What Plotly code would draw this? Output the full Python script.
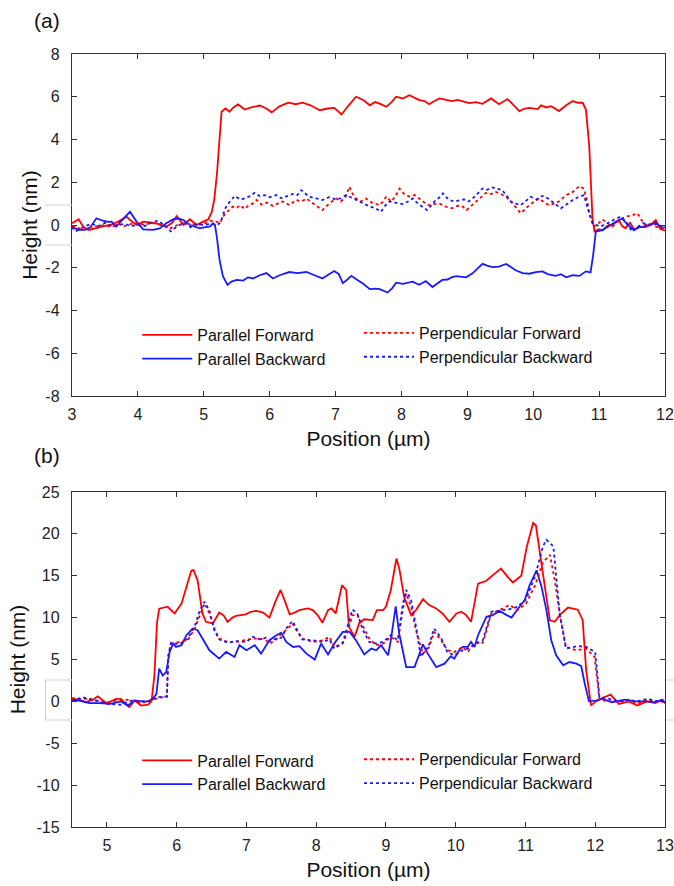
import plotly.graph_objects as go

# (a) step height profiles, (x in um, height in nm)
par_fwd_a = [(3.0, 0.08), (3.1, 0.27), (3.17, -0.08), (3.25, -0.23), (3.37, -0.15), (3.48, -0.05), (3.58, 0.0),
             (3.7, 0.16), (3.83, 0.39), (3.88, 0.23), (3.98, 0.0), (4.08, 0.16), (4.18, 0.12), (4.28, 0.08),
             (4.43, -0.08), (4.52, 0.1), (4.59, 0.42), (4.69, 0.0), (4.79, 0.27), (4.89, 0.0), (4.99, 0.16),
             (5.07, 0.27), (5.12, 0.6), (5.16, 1.2), (5.2, 2.4), (5.24, 4.0), (5.27, 5.3), (5.33, 5.45),
             (5.39, 5.3), (5.45, 5.5), (5.52, 5.64), (5.62, 5.4), (5.72, 5.5), (5.85, 5.59), (5.95, 5.45),
             (6.03, 5.27), (6.15, 5.55), (6.28, 5.72), (6.4, 5.65), (6.5, 5.72), (6.62, 5.6), (6.76, 5.37),
             (6.88, 5.45), (6.98, 5.48), (7.09, 5.17), (7.2, 5.6), (7.31, 6.0), (7.42, 5.85), (7.52, 5.6),
             (7.6, 5.75), (7.67, 5.68), (7.77, 5.53), (7.85, 5.75), (7.92, 6.0), (8.02, 5.92), (8.12, 6.07),
             (8.2, 5.95), (8.27, 5.84), (8.35, 5.8), (8.42, 5.65), (8.5, 5.8), (8.58, 5.92), (8.68, 5.85),
             (8.77, 5.8), (8.85, 5.85), (8.92, 5.8), (9.03, 5.7), (9.13, 5.75), (9.23, 5.67), (9.36, 5.92),
             (9.48, 5.65), (9.61, 5.89), (9.7, 5.6), (9.79, 5.33), (9.87, 5.45), (9.94, 5.48), (10.07, 5.42),
             (10.12, 5.6), (10.2, 5.5), (10.27, 5.56), (10.33, 5.45), (10.39, 5.33), (10.5, 5.6), (10.6, 5.8),
             (10.68, 5.72), (10.75, 5.72), (10.8, 5.4), (10.85, 3.7), (10.9, 0.3), (10.93, -0.3), (11.0, -0.2),
             (11.05, -0.25), (11.12, -0.05), (11.2, 0.0), (11.3, 0.23), (11.35, -0.05), (11.4, -0.15),
             (11.47, 0.1), (11.53, -0.2), (11.62, -0.1), (11.7, -0.1), (11.78, 0.0), (11.86, 0.23),
             (11.93, -0.2), (12.0, -0.25)]

par_bwd_a = [(3.0, -0.08), (3.1, -0.23), (3.2, -0.23), (3.28, -0.1), (3.37, 0.31), (3.47, 0.2), (3.55, 0.15),
             (3.6, 0.16), (3.67, -0.08), (3.78, 0.31), (3.88, 0.62), (3.98, 0.16), (4.08, -0.2), (4.23, -0.23),
             (4.33, -0.16), (4.43, 0.08), (4.54, 0.27), (4.62, 0.3), (4.69, 0.23), (4.79, 0.0), (4.87, -0.1),
             (4.94, -0.16), (5.02, -0.1), (5.09, -0.08), (5.14, 0.08), (5.17, 0.0), (5.2, -0.6), (5.24, -1.64),
             (5.29, -2.4), (5.36, -2.8), (5.42, -2.65), (5.5, -2.57), (5.6, -2.6), (5.67, -2.45), (5.75, -2.5),
             (5.85, -2.35), (5.95, -2.25), (6.05, -2.5), (6.15, -2.35), (6.3, -2.2), (6.42, -2.25), (6.56, -2.2),
             (6.68, -2.35), (6.8, -2.5), (6.9, -2.3), (6.98, -2.15), (7.05, -2.3), (7.11, -2.72), (7.18, -2.55),
             (7.24, -2.38), (7.32, -2.55), (7.42, -2.75), (7.52, -3.0), (7.6, -2.98), (7.67, -3.0), (7.74, -3.1),
             (7.79, -3.16), (7.86, -2.95), (7.92, -2.7), (8.02, -2.75), (8.1, -2.7), (8.17, -2.65), (8.27, -2.8),
             (8.37, -2.62), (8.47, -2.9), (8.55, -2.72), (8.62, -2.57), (8.7, -2.55), (8.76, -2.45), (8.83, -2.39),
             (8.9, -2.42), (8.98, -2.45), (9.08, -2.26), (9.15, -2.05), (9.23, -1.82), (9.3, -1.9), (9.38, -1.97),
             (9.48, -1.95), (9.59, -1.82), (9.66, -1.97), (9.74, -2.13), (9.84, -2.25), (9.94, -2.28),
             (10.04, -2.2), (10.14, -2.17), (10.22, -2.3), (10.34, -2.38), (10.42, -2.3), (10.5, -2.45),
             (10.6, -2.35), (10.7, -2.38), (10.8, -2.17), (10.87, -2.22), (10.91, -1.4), (10.95, -0.31),
             (11.05, -0.24), (11.12, -0.1), (11.2, 0.04), (11.28, 0.2), (11.35, 0.31), (11.42, 0.05),
             (11.53, -0.24), (11.6, -0.1), (11.66, -0.09), (11.76, 0.0), (11.86, 0.1), (11.96, -0.15), (12.0, -0.1)]

perp_fwd_a = [(3.0, -0.05), (3.1, -0.15), (3.2, -0.2), (3.3, -0.1), (3.4, -0.05), (3.5, 0.0), (3.6, -0.1),
              (3.7, 0.05), (3.8, -0.05), (3.9, 0.05), (4.0, 0.1), (4.1, 0.0), (4.2, 0.1), (4.3, 0.05),
              (4.4, -0.05), (4.5, -0.15), (4.6, 0.0), (4.7, 0.1), (4.8, 0.05), (4.9, 0.0), (5.0, 0.05),
              (5.1, 0.2), (5.2, 0.15), (5.25, 0.1), (5.29, 0.39), (5.35, 0.6), (5.44, 0.86), (5.5, 0.8),
              (5.55, 0.93), (5.62, 0.75), (5.67, 0.89), (5.74, 1.0), (5.8, 1.17), (5.88, 0.95), (5.96, 1.05),
              (6.05, 0.89), (6.12, 1.0), (6.2, 1.1), (6.3, 0.93), (6.4, 1.17), (6.48, 1.1), (6.56, 1.24),
              (6.64, 1.05), (6.71, 0.89), (6.8, 0.7), (6.91, 1.02), (7.01, 1.24), (7.08, 1.1), (7.15, 1.3),
              (7.21, 1.79), (7.26, 1.45), (7.31, 1.24), (7.38, 1.1), (7.46, 1.24), (7.55, 1.05), (7.67, 0.93),
              (7.72, 1.1), (7.77, 1.33), (7.84, 1.1), (7.9, 1.3), (7.97, 1.7), (8.04, 1.45), (8.12, 1.33),
              (8.2, 1.4), (8.27, 1.24), (8.33, 1.1), (8.4, 0.93), (8.48, 0.98), (8.58, 1.0), (8.68, 0.85),
              (8.77, 0.78), (8.85, 0.9), (8.93, 0.86), (8.99, 0.7), (9.08, 0.95), (9.18, 1.24), (9.28, 1.5),
              (9.36, 1.45), (9.43, 1.55), (9.51, 1.45), (9.59, 1.32), (9.69, 1.0), (9.75, 0.75), (9.81, 0.55),
              (9.88, 0.75), (9.94, 0.93), (10.02, 1.1), (10.09, 1.24), (10.17, 1.05), (10.24, 0.93),
              (10.32, 1.0), (10.39, 1.1), (10.5, 1.4), (10.6, 1.55), (10.7, 1.82), (10.77, 1.7), (10.82, 1.1),
              (10.85, 0.55), (10.92, -0.08), (11.0, 0.1), (11.05, 0.26), (11.12, 0.1), (11.2, -0.08),
              (11.3, 0.2), (11.4, 0.39), (11.5, 0.45), (11.58, 0.55), (11.64, 0.25), (11.7, 0.0), (11.78, 0.05),
              (11.86, -0.08), (11.93, -0.15), (12.0, -0.1)]

perp_bwd_a = [(3.0, -0.1), (3.05, -0.3), (3.12, -0.2), (3.2, -0.05), (3.3, 0.05), (3.4, -0.05), (3.5, 0.1),
              (3.6, -0.05), (3.7, 0.0), (3.8, 0.05), (3.9, -0.05), (4.0, 0.0), (4.1, -0.05), (4.2, 0.1),
              (4.3, 0.2), (4.4, 0.0), (4.5, -0.3), (4.6, -0.05), (4.7, 0.1), (4.8, -0.1), (4.9, 0.05),
              (5.0, 0.0), (5.1, 0.05), (5.2, 0.0), (5.25, 0.1), (5.29, 0.47), (5.33, 0.8), (5.37, 1.0),
              (5.42, 1.2), (5.47, 1.36), (5.55, 1.2), (5.62, 1.24), (5.7, 1.35), (5.77, 1.5), (5.85, 1.35),
              (5.92, 1.4), (6.0, 1.3), (6.1, 1.4), (6.18, 1.25), (6.25, 1.32), (6.35, 1.45), (6.42, 1.4),
              (6.48, 1.63), (6.55, 1.45), (6.6, 1.32), (6.7, 1.25), (6.8, 1.17), (6.9, 1.3), (7.01, 1.19),
              (7.08, 1.25), (7.16, 1.4), (7.23, 1.3), (7.31, 1.17), (7.4, 1.05), (7.46, 0.95), (7.52, 0.86),
              (7.6, 0.8), (7.69, 0.62), (7.75, 0.9), (7.82, 1.1), (7.9, 1.05), (7.96, 1.0), (8.02, 0.98),
              (8.1, 1.1), (8.17, 1.24), (8.25, 1.0), (8.32, 0.86), (8.39, 0.7), (8.45, 0.9), (8.52, 1.17),
              (8.58, 1.3), (8.63, 1.48), (8.68, 1.3), (8.73, 1.17), (8.8, 1.1), (8.88, 1.17), (8.95, 1.2),
              (9.02, 1.1), (9.08, 1.24), (9.15, 1.45), (9.23, 1.71), (9.3, 1.65), (9.38, 1.76), (9.45, 1.7),
              (9.53, 1.63), (9.6, 1.35), (9.66, 1.1), (9.74, 1.0), (9.81, 0.93), (9.88, 1.1), (9.96, 1.32),
              (10.05, 1.2), (10.14, 1.36), (10.22, 1.25), (10.29, 1.1), (10.36, 0.95), (10.42, 0.78),
              (10.5, 0.95), (10.6, 1.17), (10.68, 1.3), (10.77, 1.4), (10.82, 0.86), (10.87, 0.4), (10.9, 0.08),
              (10.96, 0.0), (11.02, -0.08), (11.1, 0.05), (11.18, 0.16), (11.25, 0.3), (11.33, 0.39),
              (11.42, 0.1), (11.5, -0.31), (11.58, -0.1), (11.66, 0.08), (11.73, 0.05), (11.8, 0.0),
              (11.88, 0.05), (11.93, -0.05), (12.0, -0.1)]

# (b) profiles
par_fwd_b = [(4.5, 0.3), (4.6, 0.2), (4.7, -0.1), (4.8, 0.2), (4.87, 0.6), (4.93, 0.2), (4.99, -0.2), (5.06, 0.0),
             (5.13, 0.3), (5.2, 0.3), (5.26, -0.2), (5.32, -0.7), (5.4, 0.1), (5.45, -0.3), (5.49, -0.5),
             (5.59, -0.4), (5.64, 0.0), (5.68, 3.0), (5.72, 9.5), (5.75, 11.07), (5.87, 11.3), (5.97, 10.5),
             (6.07, 11.67), (6.14, 13.65), (6.21, 15.6), (6.24, 15.7), (6.3, 14.45), (6.37, 10.5), (6.42, 9.5),
             (6.52, 9.3), (6.61, 10.6), (6.67, 10.3), (6.73, 9.5), (6.8, 10.0), (6.85, 10.2), (6.92, 10.3),
             (6.99, 10.4), (7.06, 10.7), (7.14, 10.8), (7.24, 10.6), (7.33, 10.0), (7.42, 12.0), (7.49, 13.3),
             (7.55, 12.0), (7.62, 10.4), (7.69, 10.6), (7.76, 10.9), (7.88, 11.1), (7.95, 10.9), (8.02, 10.3),
             (8.09, 9.4), (8.17, 10.9), (8.22, 11.1), (8.28, 10.5), (8.33, 12.5), (8.37, 13.86), (8.43, 13.3),
             (8.47, 8.9), (8.55, 7.7), (8.62, 9.4), (8.69, 9.8), (8.81, 9.7), (8.87, 10.9), (8.96, 10.9),
             (9.0, 11.3), (9.07, 13.3), (9.15, 17.05), (9.19, 15.9), (9.26, 12.5), (9.36, 10.3), (9.43, 10.9),
             (9.53, 12.2), (9.62, 11.5), (9.72, 11.1), (9.81, 10.5), (9.91, 9.5), (10.01, 10.5), (10.08, 10.7),
             (10.15, 10.3), (10.22, 9.5), (10.32, 14.06), (10.44, 14.4), (10.55, 15.2), (10.65, 15.85),
             (10.75, 14.8), (10.82, 14.2), (10.94, 15.0), (11.02, 18.5), (11.11, 21.3), (11.15, 21.0),
             (11.25, 15.25), (11.35, 9.68), (11.42, 9.5), (11.49, 10.3), (11.61, 11.2), (11.75, 10.95),
             (11.82, 9.7), (11.87, 3.7), (11.94, -0.48), (12.01, 0.0), (12.1, 0.4), (12.22, 0.8), (12.34, -0.3),
             (12.48, 0.0), (12.6, -0.5), (12.74, 0.0), (12.86, -0.2), (12.96, 0.2), (13.0, -0.2)]

par_bwd_b = [(4.5, 0.2), (4.6, 0.1), (4.75, -0.2), (4.9, -0.2), (5.05, -0.3), (5.2, 0.0), (5.3, -0.5), (5.4, 0.1),
             (5.5, 0.0), (5.6, 0.0), (5.66, 0.3), (5.71, 0.9), (5.75, 3.9), (5.8, 3.1), (5.85, 3.5), (5.9, 5.9),
             (5.95, 6.9), (5.99, 6.5), (6.07, 6.7), (6.14, 7.9), (6.23, 8.7), (6.3, 8.5), (6.37, 7.5),
             (6.47, 6.1), (6.61, 5.1), (6.71, 5.9), (6.83, 5.3), (6.9, 6.7), (7.0, 6.1), (7.12, 6.7),
             (7.21, 5.7), (7.33, 7.3), (7.43, 7.9), (7.5, 8.2), (7.57, 7.1), (7.67, 6.5), (7.76, 6.6),
             (7.86, 5.7), (7.98, 5.0), (8.07, 6.9), (8.17, 5.6), (8.26, 6.9), (8.38, 8.3), (8.48, 8.3),
             (8.57, 7.3), (8.69, 5.6), (8.79, 6.3), (8.86, 6.1), (8.93, 6.7), (9.03, 5.5), (9.07, 7.3),
             (9.14, 11.35), (9.19, 8.1), (9.26, 5.5), (9.29, 4.1), (9.41, 4.1), (9.53, 6.8), (9.6, 5.7),
             (9.72, 4.1), (9.84, 4.5), (9.93, 5.4), (9.98, 5.1), (10.05, 6.1), (10.1, 6.5), (10.17, 6.5),
             (10.22, 7.1), (10.27, 6.5), (10.32, 7.9), (10.44, 10.1), (10.53, 10.3), (10.63, 10.8),
             (10.73, 10.3), (10.8, 10.0), (10.92, 11.35), (10.99, 12.1), (11.06, 13.9), (11.16, 15.65),
             (11.23, 13.7), (11.3, 10.9), (11.37, 7.3), (11.44, 5.5), (11.54, 4.3), (11.63, 4.7), (11.73, 4.5),
             (11.8, 4.2), (11.85, 2.1), (11.91, 0.0), (12.01, 0.1), (12.1, 0.3), (12.24, -0.1), (12.43, 0.2),
             (12.57, 0.0), (12.71, 0.0), (12.86, -0.1), (12.96, 0.2), (13.0, -0.2)]

perp_fwd_b = [(4.5, 0.4), (4.6, 0.3), (4.7, 0.3), (4.85, 0.1), (5.0, -0.1), (5.15, 0.1), (5.3, 0.2), (5.4, 0.0),
              (5.5, -0.2), (5.6, 0.1), (5.7, 0.3), (5.8, 0.5), (5.86, 0.5), (5.88, 5.3), (5.92, 6.9),
              (6.04, 7.1), (6.16, 7.3), (6.26, 8.7), (6.33, 10.3), (6.4, 11.7), (6.47, 10.5), (6.54, 8.7),
              (6.61, 7.5), (6.73, 7.1), (6.85, 7.1), (7.0, 7.3), (7.09, 7.5), (7.19, 7.5), (7.28, 7.3),
              (7.33, 6.9), (7.43, 7.4), (7.48, 7.9), (7.58, 8.6), (7.66, 9.3), (7.73, 8.3), (7.8, 7.5),
              (7.95, 7.1), (8.1, 7.3), (8.19, 7.7), (8.26, 6.5), (8.38, 6.9), (8.45, 8.3), (8.52, 10.3),
              (8.59, 10.3), (8.67, 8.9), (8.76, 7.5), (8.86, 6.7), (8.96, 6.9), (9.07, 7.7), (9.17, 7.1),
              (9.24, 10.9), (9.29, 12.9), (9.36, 11.3), (9.43, 8.5), (9.53, 5.7), (9.62, 6.5), (9.69, 8.3),
              (9.79, 7.3), (9.88, 6.1), (9.98, 5.9), (10.1, 6.5), (10.17, 5.9), (10.29, 7.1), (10.39, 7.0),
              (10.51, 10.5), (10.63, 10.9), (10.77, 11.5), (10.89, 10.9), (11.01, 11.7), (11.14, 13.9),
              (11.25, 16.6), (11.35, 17.5), (11.42, 14.5), (11.49, 10.5), (11.58, 6.5), (11.73, 6.1),
              (11.87, 6.3), (11.99, 5.3), (12.03, 2.5), (12.06, 0.2), (12.2, 0.0), (12.34, 0.0), (12.48, 0.0),
              (12.6, -0.3), (12.74, 0.2), (12.86, 0.0), (13.0, -0.1)]

perp_bwd_b = [(4.5, 0.0), (4.65, 0.5), (4.8, 0.2), (5.0, -0.3), (5.2, -0.4), (5.35, 0.1), (5.5, 0.0), (5.6, 0.0),
              (5.72, 0.5), (5.86, 0.6), (5.88, 5.5), (5.92, 7.0), (6.04, 6.8), (6.16, 7.5), (6.26, 9.0),
              (6.33, 10.8), (6.4, 11.9), (6.47, 10.8), (6.54, 8.5), (6.61, 7.4), (6.73, 7.0), (6.85, 7.2),
              (7.0, 7.1), (7.09, 7.7), (7.19, 7.4), (7.28, 7.6), (7.33, 7.2), (7.43, 7.5), (7.5, 7.6),
              (7.58, 8.8), (7.66, 9.6), (7.73, 8.5), (7.8, 7.4), (7.95, 7.3), (8.1, 7.1), (8.19, 7.4),
              (8.26, 6.3), (8.38, 7.0), (8.45, 9.0), (8.52, 10.95), (8.59, 10.5), (8.67, 8.5), (8.76, 7.1),
              (8.86, 6.9), (8.96, 7.1), (9.07, 7.9), (9.17, 7.3), (9.24, 11.5), (9.29, 13.3), (9.36, 12.1),
              (9.43, 9.0), (9.5, 5.3), (9.62, 6.8), (9.69, 8.7), (9.79, 7.6), (9.88, 5.9), (9.98, 5.5),
              (10.1, 6.1), (10.17, 6.3), (10.29, 6.8), (10.39, 7.3), (10.51, 10.7), (10.63, 10.8),
              (10.77, 11.0), (10.89, 11.3), (11.01, 12.2), (11.14, 15.0), (11.25, 18.5), (11.3, 19.3),
              (11.4, 18.5), (11.49, 10.5), (11.58, 6.3), (11.75, 6.6), (11.87, 6.5), (12.0, 5.9), (12.03, 2.8),
              (12.06, 0.5), (12.2, 0.3), (12.34, 0.0), (12.48, 0.2), (12.6, 0.0), (12.74, 0.3), (12.86, 0.1),
              (13.0, 0.0)]

# y tick values, labelled with a plain hyphen as in the original
yticks_a = [-8, -6, -4, -2, 0, 2, 4, 6, 8]
yticks_b = [-15, -10, -5, 0, 5, 10, 15, 20, 25]

RED = "#ff0000"
BLUE = "#1a1aff"
FONT = "Liberation Sans, Arial, sans-serif"

# name, colour, dash for each of the four series
series_style = [("Parallel Forward", RED, "solid"),
                ("Parallel Backward", BLUE, "solid"),
                ("Perpendicular Forward", RED, "3px,3px"),
                ("Perpendicular Backward", BLUE, "3px,3px")]

fig = go.Figure()

panels = [
    ("x", "y", [par_fwd_a, par_bwd_a, perp_fwd_a, perp_bwd_a], ["legend", "legend", "legend2", "legend2"]),
    ("x2", "y2", [par_fwd_b, par_bwd_b, perp_fwd_b, perp_bwd_b], ["legend3", "legend3", "legend4", "legend4"]),
]
for xa, ya, profiles, legs in panels:
    for (name, color, dash), prof, leg in zip(series_style, profiles, legs):
        xs = [p[0] for p in prof]
        ys = [p[1] for p in prof]
        fig.add_trace(go.Scatter(x=xs, y=ys, mode="lines", name=name, xaxis=xa, yaxis=ya,
                                 line=dict(color=color, width=1.8, dash=dash), legend=leg))

axis_common = dict(showline=True, linecolor="#333333", linewidth=1.4, mirror="ticks",
                   ticks="inside", ticklen=5, tickwidth=1.2, tickcolor="#333333",
                   showgrid=False, zeroline=False, automargin=False, ticklabeloverflow="allow",
                   tickfont=dict(family=FONT, size=16, color="#222222"))
title_font = dict(family=FONT, size=21, color="#111111")

# plot area is x 72..665 px, y 54..827 px
top_dom = [431 / 773, 1.0]
bot_dom = [0.0, 335 / 773]

fig.update_layout(
    width=674, height=886,
    margin=dict(l=72, r=9, t=54, b=59, autoexpand=False),
    plot_bgcolor="white", paper_bgcolor="white",
    font=dict(family=FONT, color="#111111"),
    xaxis=dict(axis_common, range=[3, 12], dtick=1, domain=[0, 1], anchor="y", ticklabelstandoff=4,
               title=dict(text="Position (µm)", font=title_font, standoff=8)),
    yaxis=dict(axis_common, range=[-8, 8], domain=top_dom, anchor="x", ticklabelstandoff=8,
               tickmode="array", tickvals=yticks_a, ticktext=[str(v) for v in yticks_a],
               title=dict(text="Height (nm)", font=title_font, standoff=2)),
    xaxis2=dict(axis_common, range=[4.5, 13], dtick=1, domain=[0, 1], anchor="y2", ticklabelstandoff=4,
                title=dict(text="Position (µm)", font=title_font, standoff=8)),
    yaxis2=dict(axis_common, range=[-15, 25], domain=bot_dom, anchor="x2", ticklabelstandoff=8,
                tickmode="array", tickvals=yticks_b, ticktext=[str(v) for v in yticks_b],
                title=dict(text="Height (nm)", font=title_font, standoff=5)),
    showlegend=True,
)

leg_common = dict(font=dict(family=FONT, size=16, color="#111111"), bgcolor="rgba(0,0,0,0)",
                  itemwidth=50, tracegroupgap=0, xanchor="left", yanchor="middle")
fig.update_layout(
    legend=dict(leg_common, x=0.11, y=0.621),
    legend2=dict(leg_common, x=0.484, y=0.6235),
    legend3=dict(leg_common, x=0.11, y=0.0705),
    legend4=dict(leg_common, x=0.484, y=0.072),
)

for label, ypx in (("(a)", 20), ("(b)", 455)):
    fig.add_annotation(text=label, x=-25 / 593, y=(827 - ypx) / 773, xref="paper", yref="paper",
                       xanchor="center", yanchor="middle", showarrow=False,
                       font=dict(family=FONT, size=21, color="#111111"))

# faint frame marks left over from the pasted graphic
def px_x(p):
    return (p - 72) / 593

def px_y(p):
    return (827 - p) / 773

artifact = dict(type="line", xref="paper", yref="paper", line=dict(color="#d0d0d0", width=1))
for y0 in (205, 245):
    fig.add_shape(artifact, x0=px_x(45), x1=px_x(72), y0=px_y(y0), y1=px_y(y0))
for y0 in (680, 720):
    fig.add_shape(artifact, x0=px_x(45.5), x1=px_x(72), y0=px_y(y0), y1=px_y(y0))
    fig.add_shape(artifact, x0=px_x(666), x1=px_x(674), y0=px_y(y0), y1=px_y(y0))
fig.add_shape(artifact, x0=px_x(45.5), x1=px_x(45.5), y0=px_y(680), y1=px_y(720))

# the page body has an 8px default margin; drop it so the figure sits at the window corner
fig.write_html("out.html", config={"displayModeBar": False},
               post_script="document.body.style.margin='0px';")
